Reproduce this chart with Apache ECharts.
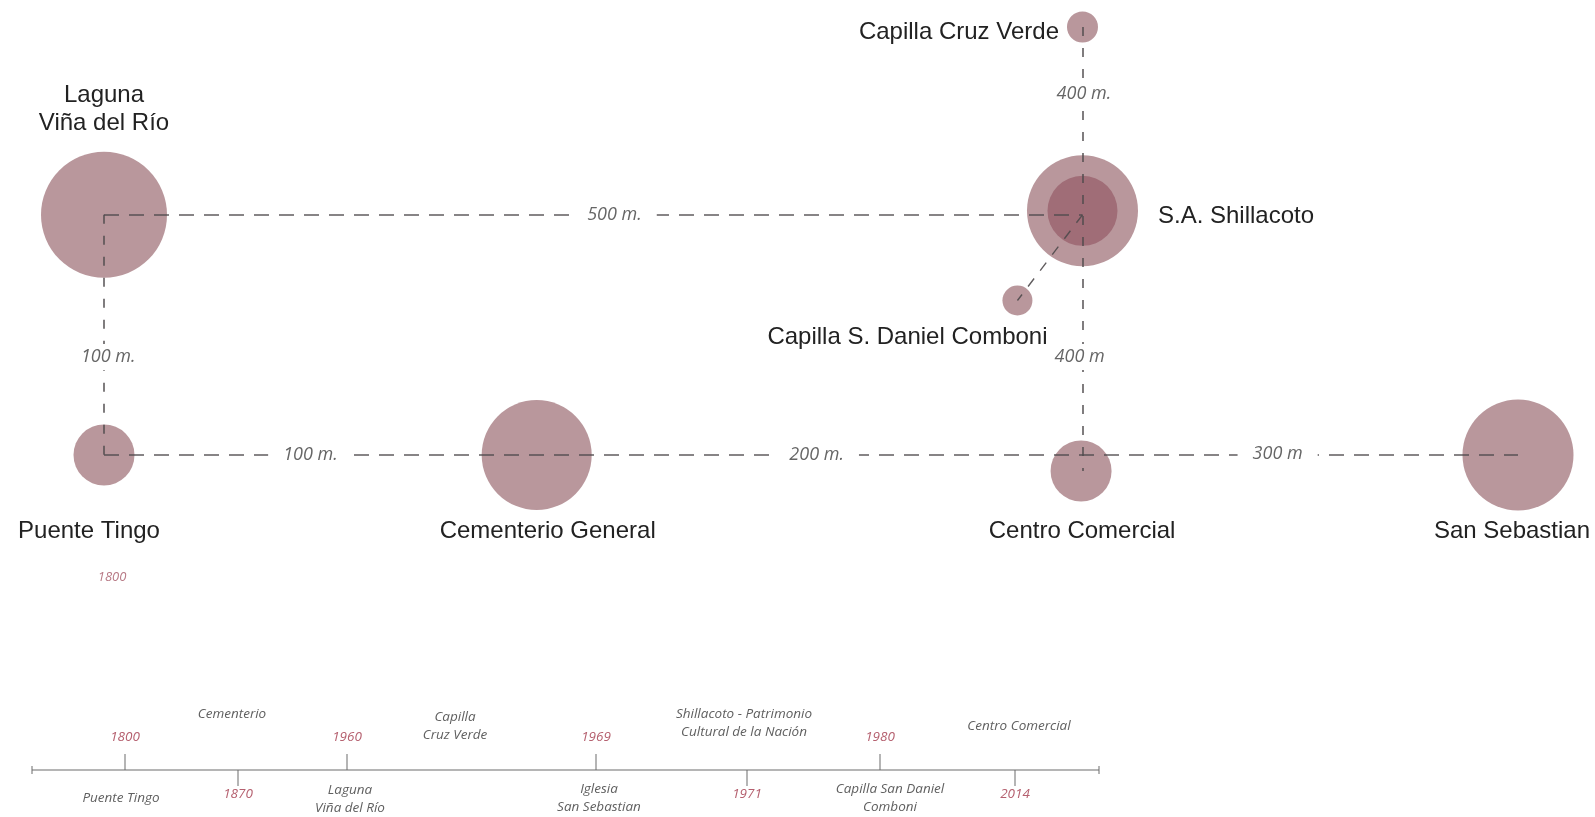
<!DOCTYPE html>
<html><head><meta charset="utf-8">
<script src="https://cdn.jsdelivr.net/npm/echarts@6/dist/echarts.min.js"></script>
<style>html,body{margin:0;padding:0;background:#fff}#c{width:1595px;height:817px}</style>
</head><body><div id="c"></div>
<script>
// ---------- DATA ----------
// Places (schematic map units: x 0..100 left→right, y 0..100 bottom→top)
const places = ['Laguna\nViña del Río', 'Puente Tingo', 'Cementerio General', 'Centro Comercial',
                'San Sebastian', 'S.A. Shillacoto', 'Capilla Cruz Verde', 'Capilla S. Daniel Comboni'];
const placeX = [0, 0, 30.6, 69.1, 100, 69.2, 69.2, 64.6];
const placeY = [57.7, 3.6, 3.6, 0, 3.6, 58.6, 100, 38.4];
const placeWeight = [126, 61, 110, 61, 111, 111, 31, 30];
const coreWeight = 70;   // inner core of S.A. Shillacoto

// Dashed connectors [x1, y1, x2, y2]
const hLinks = [[0, 57.7, 69.2, 57.7], [0, 3.6, 100, 3.6]];
const vLinks = [[0, 57.7, 0, 3.6], [69.2, 100, 69.2, 0]];
const dLinks = [[69.2, 57.7, 64.6, 38.4]];

// Distance labels
const distText = ['500 m.', '100 m.', '100 m.', '200 m.', '300 m', '400 m.', '400 m'];
const distX = [36.1, 0.3, 14.6, 50.4, 83.0, 69.3, 69.0];
const distY = [57.7, 25.7, 3.6, 3.6, 3.9, 84.9, 25.7];

// Timeline
const tlYears = ['1800', '1870', '1960', '', '1969', '1971', '1980', '2014'];
const tlPos = [93, 206, 315, 423, 564, 715, 848, 983];
const tlSide = [1, -1, 1, 0, 1, -1, 1, -1];   // 1: tick up, -1: tick down, 0: no tick
const tlEvents = ['Puente Tingo', 'Cementerio', 'Laguna\nViña del Río', 'Capilla\nCruz Verde',
                  'Iglesia\nSan Sebastian', 'Shillacoto - Patrimonio\nCultural de la Nación',
                  'Capilla San Daniel\nComboni', 'Centro Comercial'];
const tlLength = 1067;

// ---------- LAYOUT / STYLE ----------
const nameLabel = [
  {position: 'top', distance: 14, offset: [0, 0]},
  {position: 'bottom', distance: 32, offset: [-15, 0]},
  {position: 'bottom', distance: 7, offset: [11, 0]},
  {position: 'bottom', distance: 16, offset: [1, 0]},
  {position: 'bottom', distance: 7, offset: [-6, 0]},
  {position: 'right', distance: 20, offset: [0, 6]},
  {position: 'left', distance: 8, offset: [0, 5]},
  {position: 'bottom', distance: 8, offset: [-110, 0]}
];
const evDx = [-4, -6, 3, 0, 3, -3, 10, 4];
const evY = [-28, 56, -29, 44, -28.5, 46.5, -28.5, 44];

const nameFont = {fontFamily: 'Liberation Sans, Arial, sans-serif', fontSize: 24, color: '#222', lineHeight: 28};
const italic = {fontFamily: 'Open Sans, sans-serif', fontStyle: 'italic'};
const solid = {opacity: 1};

const circleData = places.map((p, i) => ({
  name: p, value: [placeX[i], placeY[i], placeWeight[i]],
  label: Object.assign({show: true, formatter: '{b}', align: 'center'}, nameFont, nameLabel[i],
    i === 5 ? {align: 'left'} : {}, i === 6 ? {align: 'right'} : {})
}));

const toLines = arr => arr.map(a => ({coords: [[a[0], a[1]], [a[2], a[3]]]}));

const tickLines = [{coords: [[0, 0], [tlLength, 0]]}, {coords: [[0, -4], [0, 4]]}, {coords: [[tlLength, -4], [tlLength, 4]]}];
tlPos.forEach((p, i) => { if (tlSide[i] !== 0) tickLines.push({coords: [[p, 0], [p, 16 * tlSide[i]]]}); });

const yearData = [];
tlPos.forEach((p, i) => { if (tlYears[i]) yearData.push({name: tlYears[i], value: [p, tlSide[i] > 0 ? 33 : -24]}); });
const eventData = tlEvents.map((e, i) => ({name: e, value: [tlPos[i] + evDx[i], evY[i]]}));

const chart = echarts.init(document.getElementById('c'), null, {renderer: 'canvas'});
chart.setOption({
  backgroundColor: '#fff',
  animation: false,
  grid: [
    {left: 104, top: 27, width: 1414, height: 577.2},
    {left: 32, top: 700, width: tlLength, height: 117}
  ],
  xAxis: [
    {type: 'value', min: 0, max: 100, show: false, gridIndex: 0},
    {type: 'value', min: 0, max: tlLength, show: false, gridIndex: 1}
  ],
  yAxis: [
    {type: 'value', min: -30, max: 100, show: false, gridIndex: 0},
    {type: 'value', min: -47, max: 70, show: false, gridIndex: 1}
  ],
  series: [
    {type: 'scatter', xAxisIndex: 0, yAxisIndex: 0, z: 2, clip: false,
     symbolSize: v => v[2], itemStyle: {color: '#b9979c', opacity: 1},
     data: circleData},
    {type: 'scatter', xAxisIndex: 0, yAxisIndex: 0, z: 3, clip: false,
     symbolSize: coreWeight, itemStyle: {color: '#a06d77', opacity: 1},
     data: [[placeX[5], placeY[5]]]},
    {type: 'lines', coordinateSystem: 'cartesian2d', xAxisIndex: 0, yAxisIndex: 0, z: 4,
     lineStyle: {color: '#4f4a4c', width: 1.6, type: [15, 10], opacity: 0.9}, data: toLines(hLinks)},
    {type: 'lines', coordinateSystem: 'cartesian2d', xAxisIndex: 0, yAxisIndex: 0, z: 4,
     lineStyle: {color: '#4f4a4c', width: 1.6, type: [9, 12], opacity: 0.9}, data: toLines(vLinks)},
    {type: 'lines', coordinateSystem: 'cartesian2d', xAxisIndex: 0, yAxisIndex: 0, z: 4,
     lineStyle: {color: '#4f4a4c', width: 1.4, type: [10, 10], opacity: 0.9}, data: toLines(dLinks)},
    {type: 'scatter', xAxisIndex: 0, yAxisIndex: 0, z: 10, clip: false, symbolSize: 0, itemStyle: solid,
     data: distText.map((t, i) => ({name: t, value: [distX[i], distY[i]]})),
     label: Object.assign({show: true, position: 'inside', formatter: '{b}', fontSize: 18, color: '#666',
       backgroundColor: '#ffffff', padding: [4, 15]}, italic)},
    {type: 'scatter', xAxisIndex: 0, yAxisIndex: 0, z: 6, clip: false, symbolSize: 0, itemStyle: solid,
     data: [{name: '1800', value: [0.57, -23.9]}],
     label: Object.assign({show: true, position: 'inside', formatter: '{b}', fontSize: 13, color: '#b87a86'}, italic)},
    {type: 'lines', coordinateSystem: 'cartesian2d', xAxisIndex: 1, yAxisIndex: 1, z: 4,
     lineStyle: {color: '#6b6b6b', width: 2, type: 'solid'}, data: tickLines},
    {type: 'scatter', xAxisIndex: 1, yAxisIndex: 1, z: 6, clip: false, symbolSize: 0, itemStyle: solid, data: yearData,
     label: Object.assign({show: true, position: 'inside', formatter: '{b}', fontSize: 13.5, color: '#b5606f'}, italic)},
    {type: 'scatter', xAxisIndex: 1, yAxisIndex: 1, z: 6, clip: false, symbolSize: 0, itemStyle: solid, data: eventData,
     label: Object.assign({show: true, position: 'inside', formatter: '{b}', fontSize: 13.5, color: '#606060',
       lineHeight: 18, align: 'center'}, italic)}
  ]
});
</script></body></html>
